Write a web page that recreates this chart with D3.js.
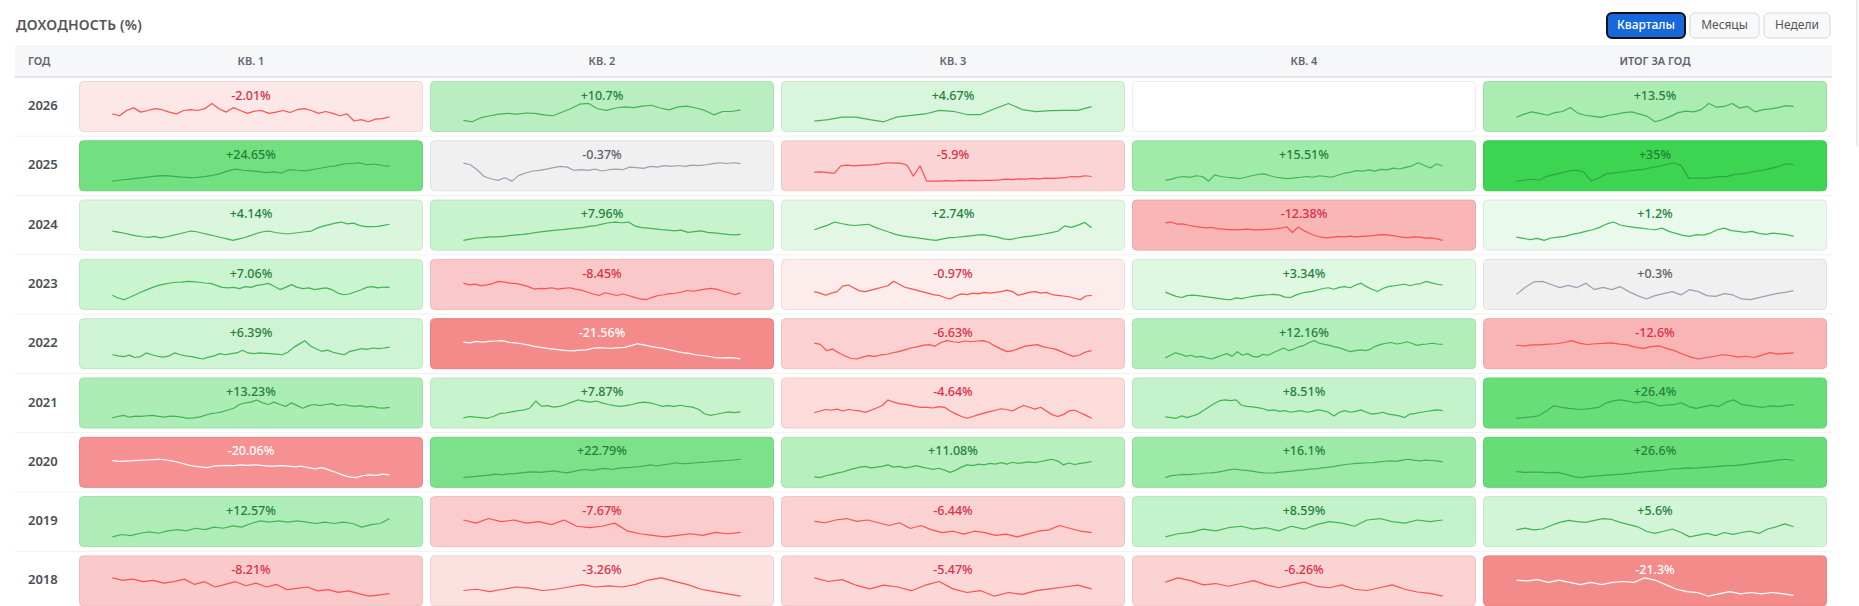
<!DOCTYPE html>
<html lang="ru">
<head>
<meta charset="UTF-8">
<title>Доходность (%)</title>
<script src="https://d3js.org/d3.v7.min.js"></script>
<style>
  html, body { margin: 0; padding: 0; background: #fff; }
  svg { display: block; font-family: "Noto Sans", "Open Sans", sans-serif; }
</style>
</head>
<body>
<svg id="chart" width="1859" height="606"></svg>
<script>
const years = [2026, 2025, 2024, 2023, 2022, 2021, 2020, 2019, 2018];
const columns = ["КВ. 1", "КВ. 2", "КВ. 3", "КВ. 4", "ИТОГ ЗА ГОД"];
const periods = ["Кварталы", "Месяцы", "Недели"];

// returns per year: Q1..Q4, year total
const returns = [
  [-2.01, 10.7, 4.67, null, 13.5],
  [24.65, -0.37, -5.9, 15.51, 35],
  [4.14, 7.96, 2.74, -12.38, 1.2],
  [7.06, -8.45, -0.97, 3.34, 0.3],
  [6.39, -21.56, -6.63, 12.16, -12.6],
  [13.23, 7.87, -4.64, 8.51, 26.4],
  [-20.06, 22.79, 11.08, 16.1, 26.6],
  [12.57, -7.67, -6.44, 8.59, 5.6],
  [-8.21, -3.26, -5.47, -6.26, -21.3]
];

// sparkline shapes (relative price level)
const spark2026 = [
  [44,35,61,74,53,61,70,65,53,44,61,65,61,70,96,70,53,75,61,47,58,61,47,53,61,51,65,70,61,47,56,47,35,44,9,16,5,18,21,30],
  [8,0,23,33,42,46,42,48,46,38,33,52,71,96,100,71,62,75,81,77,85,90,75,65,81,85,75,62,38,56,56,65],
  [6,13,26,26,13,2,28,36,43,62,57,40,40,70,98,66,55,60,62,62,81],
  null,
  [24,41,53,45,35,49,55,76,45,35,29,24,35,41,49,53,41,29,0,12,29,49,57,53,65,98,78,82,98,73,82,53,65,69,76,86,82]
];
const spark2025 = [
  [0,6,9,15,19,24,28,30,26,22,19,20,24,31,41,56,65,59,56,52,46,50,44,63,59,56,63,70,78,83,93,96,100,89,93,85,80],
  [98,89,62,25,13,4,18,0,31,44,55,58,65,73,80,76,58,62,58,65,55,62,65,62,76,73,69,80,76,84,80,85,80,87,84,89,95,100,96,100,95],
  [50,52,48,44,84,88,84,86,88,90,94,100,98,98,88,30,84,4,4,4,6,4,8,6,8,6,8,8,10,14,12,16,14,18,16,20,18,20,22,28,26,32,28],
  [4,11,21,25,20,29,25,0,34,25,21,18,13,21,29,36,39,29,21,16,13,18,21,25,21,29,25,21,32,43,48,57,54,61,54,64,61,71,66,75,82,100,86,71,93,82],
  [7,11,16,11,29,38,47,56,60,51,7,22,42,47,51,56,60,64,73,78,87,96,82,20,22,20,24,29,29,38,42,47,56,60,69,78,91,87]
];
const spark2024 = [
  [51,45,39,31,25,20,16,22,14,20,27,35,43,51,47,39,31,24,16,8,0,8,16,27,39,47,51,43,39,35,39,43,47,51,67,78,86,94,100,90,94,82,75,75,76,82,88],
  [0,7,13,15,19,19,22,26,30,33,37,43,48,52,56,59,63,67,70,76,80,89,96,100,96,100,78,70,67,63,59,56,52,56,44,48,52,44,41,37,33,30,33],
  [58,71,83,100,92,85,81,85,88,71,58,46,33,25,19,15,10,4,0,8,15,17,21,25,29,31,25,19,8,4,13,19,23,29,35,42,50,79,71,83,98,69],
  [94,98,87,88,81,75,71,67,69,63,60,58,56,58,60,58,56,58,60,62,65,73,42,71,52,37,25,17,13,17,21,19,23,19,21,23,25,29,31,27,23,17,15,19,17,12,13,8,0],
  [18,11,4,11,0,13,18,22,33,40,49,58,71,89,100,84,76,71,67,62,58,67,49,38,27,22,31,29,40,58,67,53,49,44,49,38,33,40,36,31,22]
];
const spark2023 = [
  [24,9,0,13,27,42,55,67,78,85,91,95,96,100,98,95,91,89,78,67,64,67,60,71,67,78,82,89,73,55,67,82,67,60,64,55,60,64,55,36,27,31,42,53,67,71,64,69,67],
  [90,81,85,77,81,88,100,96,90,88,81,71,58,62,60,65,58,62,65,58,52,42,31,23,38,31,23,31,23,13,4,0,13,23,27,33,35,42,50,46,52,58,62,56,46,38,27,37],
  [44,36,24,36,44,74,80,64,48,44,52,60,68,76,100,84,68,60,52,44,36,28,24,12,4,20,32,28,36,32,40,36,40,44,52,44,24,32,40,44,36,40,28,24,20,16,8,0,20,24],
  [41,29,18,12,22,25,22,18,14,10,6,2,0,10,6,12,18,22,25,27,29,25,14,12,25,35,41,45,53,61,65,57,67,71,65,80,90,71,57,45,61,71,75,80,84,76,84,88,100,92,84,80],
  [29,66,97,100,83,66,78,66,89,55,67,55,71,44,22,4,22,33,44,26,55,44,22,18,33,26,4,0,11,22,33,40,49]
];
const spark2022 = [
  [23,17,13,21,8,13,33,23,15,10,17,33,23,17,13,6,0,10,17,29,23,29,33,48,33,29,33,31,29,27,23,37,62,81,100,71,56,42,48,37,29,23,42,48,56,52,60,56,60,65],
  [92,88,96,92,96,98,100,92,88,83,77,69,63,58,54,50,46,44,48,50,58,62,60,58,62,63,73,83,77,69,63,58,50,42,35,31,23,19,15,8,6,8,6,0],
  [86,80,46,54,34,18,4,0,10,18,14,22,26,34,40,50,60,66,74,78,70,90,100,94,90,98,94,98,100,90,70,54,40,46,58,70,74,78,66,60,54,40,26,14,22,38,46],
  [8,22,35,27,16,22,12,16,8,2,12,22,31,16,41,22,31,16,12,27,22,35,47,61,47,55,67,75,90,100,86,80,75,67,61,51,41,47,51,47,55,71,80,86,90,82,86,94,86,75,80,82,86,82,80],
  [75,71,77,77,81,83,90,100,85,79,83,85,88,81,77,65,58,67,71,58,44,27,10,0,8,15,23,19,10,15,8,21,35,27,31,33]
];
const spark2021 = [
  [2,10,16,6,12,10,14,16,10,6,12,10,6,0,2,6,16,25,29,35,45,55,75,84,88,100,84,75,88,75,65,84,69,55,69,75,69,75,80,69,75,69,65,69,61,65,57,55,59],
  [2,10,6,4,0,10,25,29,35,41,45,55,94,65,69,61,65,75,88,100,94,88,94,84,75,69,65,69,75,84,88,84,75,65,69,65,71,65,61,49,25,16,22,29,35,31,35],
  [30,40,48,44,50,40,48,44,40,32,44,56,70,100,88,80,76,70,64,60,60,56,64,60,40,24,10,0,10,20,28,36,44,52,48,40,56,70,60,50,60,40,20,10,20,40,44,30,16,0],
  [8,4,0,13,4,13,23,42,62,81,96,100,96,100,71,65,62,58,52,42,46,38,42,33,38,42,33,38,46,42,33,13,33,42,33,38,46,33,23,27,33,23,19,13,4,23,27,33,37,42,46,42],
  [0,4,8,14,40,68,60,54,50,48,54,60,84,96,100,92,84,92,84,68,72,74,84,64,54,64,72,64,88,100,76,70,64,60,68,64,70,74]
];
const spark2020 = [
  [92,88,90,92,94,96,98,100,96,90,81,71,62,58,54,62,65,67,65,69,67,69,67,63,62,65,62,58,62,54,48,54,42,29,15,4,0,10,15,12,19,15],
  [0,4,7,11,13,19,15,20,22,26,30,31,28,33,37,31,26,33,41,44,39,46,50,44,50,54,56,59,63,69,63,70,74,81,76,78,81,83,85,89,91,93,96,100],
  [4,0,10,16,24,30,40,48,56,60,52,56,60,68,56,60,52,56,64,56,50,44,50,40,28,40,56,68,64,72,68,76,72,80,72,82,76,80,84,80,86,92,98,88,68,78,70,76,80,86],
  [0,11,14,18,16,19,21,25,26,30,35,42,47,42,39,35,30,26,25,26,30,33,35,39,42,46,47,53,56,60,65,70,74,77,79,81,82,86,89,91,88,95,100,95,91,95,93,91,86],
  [33,28,30,30,26,28,19,5,0,7,9,14,16,19,23,30,33,37,40,47,49,53,51,56,58,63,65,67,72,77,84,88,95,100,93]
];
const spark2019 = [
  [0,13,7,20,27,20,33,40,33,47,40,53,47,60,53,73,87,80,87,80,87,80,73,80,73,80,73,53,67,73,100],
  [92,75,100,83,92,75,83,67,92,58,50,58,75,33,17,8,0,8,17,8,25,17,25],
  [85,77,92,100,85,92,77,62,77,46,62,38,23,31,15,31,23,8,15,0,15,31,38,62,46,31,23],
  [0,17,25,42,33,50,58,42,50,33,58,42,67,83,75,58,92,100,83,75,92,83,92],
  [38,48,38,43,62,79,90,83,79,90,100,95,79,67,55,31,19,31,43,24,0,10,19,7,24,14,24,31,19,43,55,71,55]
];
const spark2018 = [
  [100,86,93,79,86,71,79,93,64,79,50,64,79,57,71,50,64,36,43,50,29,36,21,29,14,0,7,14],
  [31,38,25,38,50,44,31,38,50,63,50,56,50,63,88,100,81,63,38,25,13,0],
  [100,80,90,60,40,60,50,30,60,80,40,20,30,0,20,10,30,40,50,60,40],
  [77,100,85,62,69,54,69,85,62,46,62,77,54,46,62,38,31,46,62,38,23,15,0],
  [88,83,90,75,88,75,63,75,63,75,80,75,100,88,63,38,25,20,0,13,25,13,20,13,20,13,5]
];
const sparks = [spark2026, spark2025, spark2024, spark2023, spark2022, spark2021, spark2020, spark2019, spark2018];

const svg = d3.select("#chart");

const fmt = v => (v > 0 ? "+" : "") + (+v.toFixed(2)) + "%";
const isFlat = v => Math.abs(v) < 0.5;

function cellFill(v) {
  if (v == null) return "#ffffff";
  if (isFlat(v)) return "#f0f0f0";
  if (v > 0) return d3.interpolateRgb("#ffffff", "#3dd451")(0.08 + 0.92 * Math.min(1, v / 35));
  return d3.interpolateRgb("#ffffff", "#f48a8a")(0.12 + 0.88 * Math.min(1, -v / 21.5));
}
function textColor(v) {
  if (isFlat(v)) return "#5b606b";
  if (v <= -15) return "#ffffff";
  return v > 0 ? "#23803a" : "#dc2f45";
}
function lineColor(v) {
  if (isFlat(v)) return "#9ba0b3";
  if (v <= -15) return "#ffffff";
  if (v >= 20) return "rgba(38,140,58,0.65)";
  return v > 0 ? "#42b552" : "#ff4f4f";
}

// title
svg.append("text")
  .attr("x", 16).attr("y", 26)
  .attr("dominant-baseline", "middle")
  .attr("font-size", 14).attr("font-weight", 600)
  .attr("fill", "#555").attr("letter-spacing", 0.2)
  .text("ДОХОДНОСТЬ (%)");

// period buttons
const btnX = [1607, 1690, 1764], btnW = [78, 69, 66];
const btns = svg.append("g").selectAll("g").data(periods).join("g")
  .attr("transform", (d, i) => `translate(${btnX[i]},13)`);
btns.append("rect")
  .attr("width", (d, i) => btnW[i]).attr("height", 25).attr("rx", 5)
  .attr("fill", (d, i) => i === 0 ? "#1668dc" : "#f8f9fa")
  .attr("stroke", (d, i) => i === 0 ? "#111" : "#d3d7dc")
  .attr("stroke-width", (d, i) => i === 0 ? 2 : 1);
btns.append("text")
  .attr("x", (d, i) => btnW[i] / 2).attr("y", 13)
  .attr("text-anchor", "middle").attr("dominant-baseline", "middle")
  .attr("font-size", 12).attr("font-weight", (d, i) => i === 0 ? 500 : 400)
  .attr("fill", (d, i) => i === 0 ? "#fff" : "#555")
  .text(d => d);

// scroll rail at the right edge
svg.append("rect").attr("x", 1856).attr("y", 0).attr("width", 2).attr("height", 146).attr("fill", "#ececec");

// scales
const x = d3.scaleBand().domain(columns).range([79, 1827]).paddingInner(0.02);
const y = d3.scaleBand().domain(years).range([81, 606.4]).paddingInner(0.14);

// header
svg.append("rect").attr("x", 15).attr("y", 45).attr("width", 1817).attr("height", 32).attr("fill", "#f6f7f9");
svg.append("line").attr("x1", 15).attr("x2", 1832).attr("y1", 77).attr("y2", 77)
  .attr("stroke", "#dcdfe4").attr("stroke-width", 1.5);
const head = svg.append("g")
  .attr("font-size", 11).attr("font-weight", 600).attr("fill", "#60646c");
head.append("text").attr("x", 28).attr("y", 62).attr("dominant-baseline", "middle").text("ГОД");
head.selectAll("text.col").data(columns).join("text").attr("class", "col")
  .attr("x", d => x(d) + x.bandwidth() / 2).attr("y", 62)
  .attr("text-anchor", "middle").attr("dominant-baseline", "middle")
  .text(d => d);

// row separators
svg.append("g").selectAll("line").data(years.slice(1)).join("line")
  .attr("x1", 15).attr("x2", 1832)
  .attr("y1", d => y(d) - (y.step() - y.bandwidth()) / 2)
  .attr("y2", d => y(d) - (y.step() - y.bandwidth()) / 2)
  .attr("stroke", "#f1f1f3");

// rows
const rows = svg.append("g").selectAll("g").data(years).join("g")
  .attr("transform", d => `translate(0,${y(d)})`);

rows.append("text")
  .attr("x", 28).attr("y", y.bandwidth() / 2)
  .attr("dominant-baseline", "middle")
  .attr("font-size", 13).attr("font-weight", 600).attr("fill", "#4a4e55")
  .text(d => d);

const h = y.bandwidth(), w = x.bandwidth();
const sx = d3.scaleLinear().range([w * 0.097, w * 0.903]);
const sy = d3.scaleLinear().range([h * 0.80, h * 0.44]);

rows.each(function(yr, r) {
  const g = d3.select(this);
  columns.forEach((col, c) => {
    const v = returns[r][c];
    const cell = g.append("g").attr("transform", `translate(${x(col)},0)`);
    const fill = cellFill(v);
    cell.append("rect")
      .attr("x", 0.5).attr("y", 0.5)
      .attr("width", w - 1).attr("height", h - 1).attr("rx", 4)
      .attr("fill", fill)
      .attr("stroke", v == null ? "#ececec" : d3.color(fill).darker(0.18));
    if (v == null) return;
    cell.append("text")
      .attr("x", w / 2).attr("y", h * 0.30)
      .attr("text-anchor", "middle").attr("dominant-baseline", "middle")
      .attr("font-size", 12.5).attr("font-weight", 500)
      .attr("fill", textColor(v))
      .text(fmt(v));
    const pts = sparks[r][c];
    if (!pts) return;
    sx.domain([0, pts.length - 1]);
    sy.domain(d3.extent(pts));
    const line = d3.line()
      .x((d, i) => sx(i))
      .y(d => sy(d));
    cell.append("path")
      .attr("d", line(pts))
      .attr("fill", "none")
      .attr("stroke", lineColor(v))
      .attr("stroke-width", 1.2)
      .attr("stroke-linejoin", "round");
  });
});
</script>
</body>
</html>
